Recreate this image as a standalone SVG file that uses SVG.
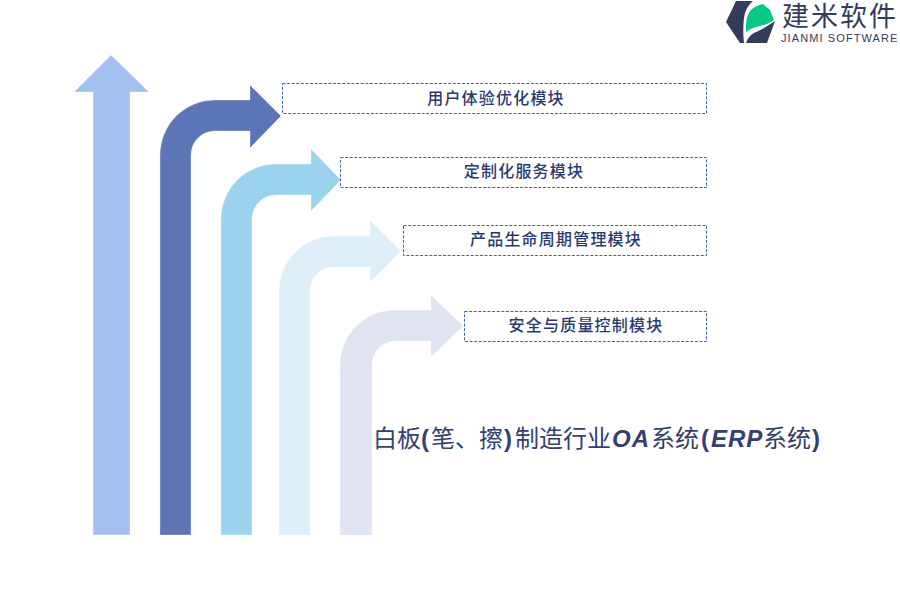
<svg xmlns="http://www.w3.org/2000/svg" width="900" height="600" viewBox="0 0 900 600">
<style>
.box{fill:#fff;stroke:#3c66a8;stroke-width:1;stroke-dasharray:3 1.6}
.lbl{font-family:"Noto Sans CJK SC",sans-serif;font-size:16px;font-weight:500;fill:#2b3a6e;text-anchor:middle;letter-spacing:1.2px}
.arrow{stroke:#fff;stroke-opacity:.35;stroke-width:1}
.title{font-family:"Noto Sans CJK SC",sans-serif;font-size:24px;fill:#35406e}
.lat{font-family:"Liberation Sans",sans-serif;font-style:italic;font-weight:bold;letter-spacing:1px}
.par{font-family:"Liberation Sans",sans-serif;font-weight:bold}
</style>
<rect width="900" height="600" fill="#fff"/>
<g id="connectors">
<path class="arrow" fill="#a1c0ef" d="M111 55L149 92H130V535H93V92H74Z"/>
<path class="arrow" fill="#5c75b6" d="M160 535V155A55 55 0 0 1 215 100H250V85L281 116L250 148V131H215A24 24 0 0 0 191 155V535Z"/>
<path class="arrow" fill="#9bd3ef" d="M221 535V219A55 55 0 0 1 276 164H311V149L341 180L311 211V195H276A24 24 0 0 0 252 219V535Z"/>
<path class="arrow" fill="#deeef9" d="M279 535V291A55 55 0 0 1 334 236H370V220L401 251L370 282V267H334A24 24 0 0 0 310 291V535Z"/>
<path class="arrow" fill="#dfe3f2" d="M340 535V365A55 55 0 0 1 395 310H431V295L463 326L431 357V341H395A24 24 0 0 0 372 365V535Z"/>
</g>
<g id="node1"><rect class="box" x="282.500" y="83.500" width="424" height="30"/><text class="lbl" x="496" y="104">用户体验优化模块</text></g>
<g id="node2"><rect class="box" x="340.500" y="157.500" width="366" height="30"/><text class="lbl" x="524" y="177">定制化服务模块</text></g>
<g id="node3"><rect class="box" x="403.500" y="225.500" width="303" height="30"/><text class="lbl" x="556" y="245">产品生命周期管理模块</text></g>
<g id="node4"><rect class="box" x="464.500" y="311.500" width="242" height="30"/><text class="lbl" x="586" y="331">安全与质量控制模块</text></g>
<text id="title" class="title" x="373" y="447">白板<tspan class="par" x="421">(</tspan><tspan x="431">笔、擦</tspan><tspan class="par" x="504">)</tspan><tspan x="515">制造行业</tspan><tspan class="lat" x="612">OA</tspan><tspan x="651">系统</tspan><tspan class="par" x="701">(</tspan><tspan class="lat" x="711">ERP</tspan><tspan x="763">系统</tspan><tspan class="par" x="812">)</tspan></text>
<g id="logo">
<path fill="#333c5a" d="M736 1H753C747 6 745 12 744 18C743 26 743 34 744 43H740L726 22Z"/>
<path fill="#333c5a" d="M775 21L767 43H746C748 38 750 35 754 33C761 30 768 26 775 21Z"/>
<path fill="#05c88a" d="M746 32C746 24 746 20 748 15C750 9 755 6 763 4L770 10L774 20C768 24 764 25 760 26C755 27 750 29 746 32Z"/>
<text x="782" y="26" font-family="Liberation Sans,Noto Sans CJK SC,sans-serif" font-size="27" letter-spacing="2" fill="#333c5a">建米软件</text>
<text x="781" y="42" font-family="Liberation Sans,sans-serif" font-size="11" letter-spacing="1.1" fill="#333c5a">JIANMI SOFTWARE</text>
</g>
</svg>
